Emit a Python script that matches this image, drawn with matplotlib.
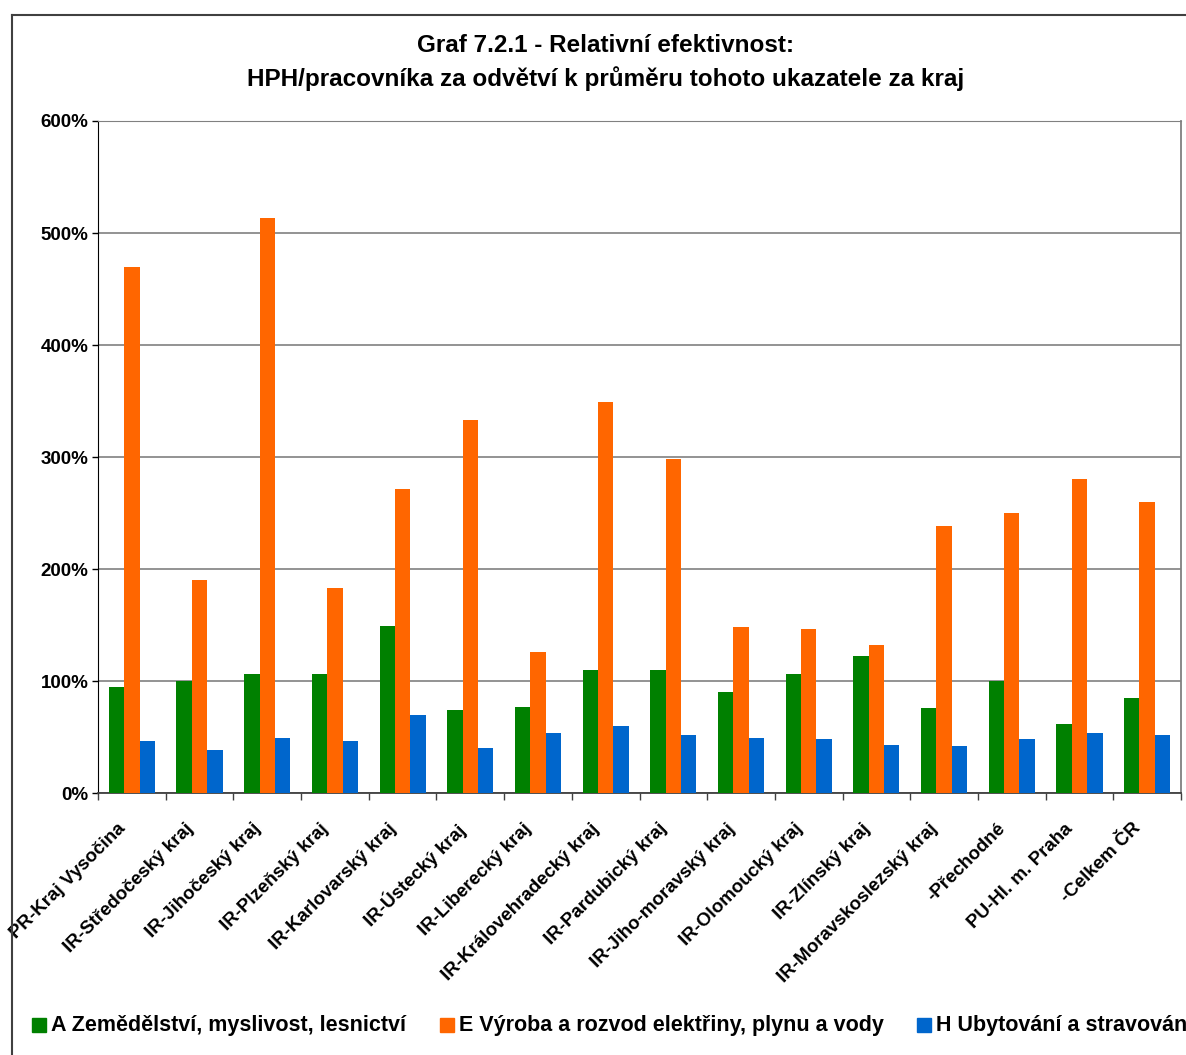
import matplotlib.pyplot as plt
from matplotlib.lines import Line2D
from matplotlib.patches import Rectangle
from matplotlib.ticker import FuncFormatter, MultipleLocator
from matplotlib.transforms import ScaledTranslation
import numpy as np

plt.rcParams['font.family'] = ['Liberation Sans', 'DejaVu Sans']

# data
kraje = ['PR-Kraj Vysočina', 'IR-Středočeský kraj', 'IR-Jihočeský kraj', 'IR-Plzeňský kraj',
         'IR-Karlovarský kraj', 'IR-Ústecký kraj', 'IR-Liberecký kraj', 'IR-Královehradecký kraj',
         'IR-Pardubický kraj', 'IR-Jiho-moravský kraj', 'IR-Olomoucký kraj', 'IR-Zlínský kraj',
         'IR-Moravskoslezský kraj', '-Přechodné', 'PU-Hl. m. Praha', '-Celkem ČR']
zemedelstvi = [95, 100, 106, 106, 149, 74, 77, 110, 110, 90, 106, 122, 76, 100, 62, 85]
energetika = [470, 190, 513, 183, 271, 333, 126, 349, 298, 148, 146, 132, 238, 250, 280, 260]
ubytovani = [46, 38, 49, 46, 70, 40, 54, 60, 52, 49, 48, 43, 42, 48, 54, 52]
serie = ['A Zemědělství, myslivost, lesnictví',
         'E Výroba a rozvod elektřiny, plynu a vody',
         'H Ubytování a stravování']
barvy = ['#008000', '#FF6600', '#0066CC']

fig = plt.figure(figsize=(11.86, 10.55), dpi=100)
ax = fig.add_axes([98 / 1186, 262 / 1055, (1181 - 98) / 1186, (793 - 121) / 1055])

x = np.arange(len(kraje))
w = 0.227
for i, vals in enumerate([zemedelstvi, energetika, ubytovani]):
    ax.bar(x + (i - 1) * w, vals, width=w, color=barvy[i], zorder=3)

ax.set_xlim(-0.5, len(kraje) - 0.5)
ax.set_ylim(0, 600)
ax.yaxis.set_major_locator(MultipleLocator(100))
ax.yaxis.set_major_formatter(FuncFormatter(lambda v, p: f'{v:.0f}%'))
ax.grid(axis='y', color='#808080', linewidth=1.2, zorder=0)

# ticks at group boundaries, category labels below the group centres
ax.set_xticks(np.arange(len(kraje) + 1) - 0.5)
ax.set_xticklabels([])
ax.tick_params(axis='x', length=5, width=1, color='#404040', direction='out')
posun = ax.get_xaxis_transform() + ScaledTranslation(-0.15, -0.27, fig.dpi_scale_trans)
for xi, lab in zip(x, kraje):
    ax.text(xi, 0, lab, transform=posun, rotation=45, ha='right', va='top',
            rotation_mode='anchor', fontsize=13.5, fontweight='bold')

ax.tick_params(axis='y', length=4, width=1, direction='out', labelsize=13.5, pad=3)
for t in ax.get_yticklabels():
    t.set_fontweight('bold')

ax.spines['left'].set_color('black')
ax.spines['bottom'].set_color('#404040')
ax.spines['bottom'].set_linewidth(1.3)
ax.spines['top'].set_color('#808080')
ax.spines['right'].set_color('#808080')
ax.spines['right'].set_linewidth(1.3)

# title
fig.text(606 / 1186, 1 - 46 / 1055, 'Graf 7.2.1 - Relativní efektivnost:',
         ha='center', va='center', fontsize=17.5, fontweight='bold')
fig.text(606 / 1186, 1 - 79 / 1055, 'HPH/pracovníka za odvětví k průměru tohoto ukazatele za kraj',
         ha='center', va='center', fontsize=17.5, fontweight='bold')

# legend (manual, clipped by the right figure edge as in the original)
leg_x = [32, 440, 917]
for lx, lab, c in zip(leg_x, serie, barvy):
    fig.patches.append(Rectangle((lx / 1186, 1 - 1032 / 1055), 14 / 1186, 14 / 1055,
                                 transform=fig.transFigure, color=c))
    fig.text((lx + 19) / 1186, 1 - 1025 / 1055, lab, ha='left', va='center',
             fontsize=15.5, fontweight='bold')

# chart frame
fig.add_artist(Line2D([12 / 1186, 1], [1 - 15 / 1055, 1 - 15 / 1055],
                      transform=fig.transFigure, color='#404040', linewidth=1.5))
fig.add_artist(Line2D([12 / 1186, 12 / 1186], [0, 1 - 15 / 1055],
                      transform=fig.transFigure, color='#404040', linewidth=1.5))

fig.savefig('out.png', dpi=100)
